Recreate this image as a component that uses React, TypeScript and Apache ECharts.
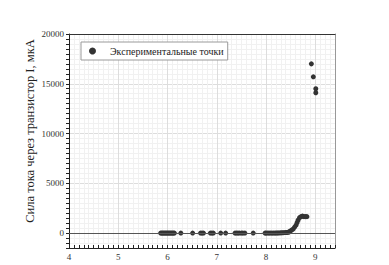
import React, { useEffect, useRef } from "react";
import * as echarts from "echarts";

// Напряжение (ось X) и ток (ось Y), мкА
const voltage = [
  5.86, 5.88, 5.9, 5.92, 5.94, 5.96, 5.98, 6.0, 6.02, 6.04, 6.06, 6.08, 6.1, 6.12, 6.14,
  6.27, 6.51, 6.67, 6.7, 6.73, 6.87, 6.9, 6.93, 7.08, 7.18,
  7.37, 7.4, 7.43, 7.46, 7.5, 7.53, 7.57, 7.74,
  7.98, 8.0, 8.03, 8.06, 8.09, 8.12, 8.15, 8.18, 8.21, 8.24, 8.27, 8.3, 8.33, 8.36, 8.39, 8.42,
  8.45, 8.47, 8.49, 8.52, 8.55, 8.58, 8.61, 8.63, 8.65, 8.68, 8.71, 8.74, 8.77, 8.8, 8.83,
  8.92, 8.96, 9.01, 9.01,
];
const current = [
  0, 0, 0, 0, 0, 0, 0, 0, 0, 0, 0, 0, 0, 0, 0,
  0, 0, 0, 0, 0, 0, 0, 0, 0, 0,
  0, 0, 0, 0, 0, 0, 0, 0,
  0, 0, 0, 0, 0, 0, 0, 0, 5, 10, 15, 20, 30, 40, 50, 60,
  80, 120, 200, 300, 400, 600, 800, 1050, 1300, 1550, 1650, 1700, 1650, 1650, 1650,
  17000, 15700, 14500, 14100,
];
const xTickLabels = [4, 5, 6, 7, 8, 9];
const yTickLabels = [0, 5000, 10000, 15000, 20000];
const seriesName = "Экспериментальные точки";
const yTitle = "Сила тока через транзистор I, мкА";

const FONT = "'Liberation Serif', 'DejaVu Serif', serif";

export default function App() {
  const ref = useRef<HTMLDivElement>(null);
  useEffect(() => {
    document.body.style.margin = "0";
    const chart = echarts.init(ref.current!, null, { renderer: "svg" });
    const data = voltage.map((v, i) => [v, current[i]]);
    const isIn = (arr: number[], v: number) => arr.some((t) => Math.abs(t - v) < 1e-6);
    chart.setOption({
      animation: false,
      backgroundColor: "#ffffff",
      grid: { left: 69, right: 54, top: 34, bottom: 17 },
      legend: {
        data: [seriesName],
        left: 81,
        top: 42,
        padding: [4, 4, 4, 8],
        icon: "circle",
        itemWidth: 7,
        itemHeight: 7,
        borderColor: "#9a9a9a",
        borderWidth: 1,
        borderRadius: 0,
        backgroundColor: "#ffffff",
        textStyle: { fontFamily: FONT, fontSize: 10, color: "#222", padding: [0, 0, 0, 9] },
      },
      xAxis: [
        {
          type: "value",
          min: 4,
          max: 9.4,
          interval: 0.1,
          position: "bottom",
          axisLine: { onZero: false, lineStyle: { color: "#222", width: 1 } },
          axisTick: { inside: true, length: 3, lineStyle: { color: "#222" } },
          axisLabel: {
            formatter: (v: number) => (isIn(xTickLabels, v) ? String(Math.round(v)) : ""),
            fontFamily: FONT,
            fontSize: 9,
            color: "#333",
            margin: 4,
          },
          splitLine: { show: true, lineStyle: { color: "#f1f1f1", width: 1 } },
        },
        {
          type: "value",
          min: 4,
          max: 9.4,
          interval: 1,
          position: "top",
          axisLine: { onZero: false, lineStyle: { color: "#333", width: 1 } },
          axisTick: { show: false },
          axisLabel: { show: false },
          splitLine: { show: true, lineStyle: { color: "#dddddd", width: 1 } },
        },
      ],
      yAxis: [
        {
          type: "value",
          min: -1500,
          max: 20000,
          interval: 500,
          position: "left",
          axisLine: { show: true, onZero: false, lineStyle: { color: "#222", width: 1 } },
          axisTick: { show: true, inside: false, length: 3, lineStyle: { color: "#222" } },
          axisLabel: {
            formatter: (v: number) => (isIn(yTickLabels, v) ? String(v) : ""),
            fontFamily: FONT,
            fontSize: 9,
            color: "#333",
            margin: 5,
          },
          splitLine: { show: true, lineStyle: { color: "#f1f1f1", width: 1 } },
        },
        {
          type: "value",
          min: -1500,
          max: 20000,
          minInterval: 5000,
          maxInterval: 5000,
          position: "right",
          axisLine: { show: true, onZero: false, lineStyle: { color: "#999", width: 1 } },
          axisTick: { show: false },
          axisLabel: { show: false },
          splitLine: { show: true, lineStyle: { color: "#dddddd", width: 1 } },
        },
      ],
      series: [
        {
          name: seriesName,
          type: "scatter",
          xAxisIndex: 0,
          yAxisIndex: 0,
          data,
          symbolSize: 5,
          itemStyle: { color: "#333333", opacity: 1 },
          markLine: {
            silent: true,
            symbol: "none",
            label: { show: false },
            lineStyle: { color: "#555", width: 1.2, type: "solid" },
            data: [{ yAxis: 0 }],
          },
        },
      ],
      graphic: [
        {
          type: "text",
          x: 30,
          y: 131,
          rotation: Math.PI / 2,
          style: {
            text: yTitle,
            fontFamily: FONT,
            fontSize: 12.5,
            fill: "#222",
            textAlign: "center",
            textVerticalAlign: "middle",
          },
        },
      ],
    });
    return () => chart.dispose();
  }, []);
  return <div ref={ref} style={{ width: 389, height: 265 }} />;
}
